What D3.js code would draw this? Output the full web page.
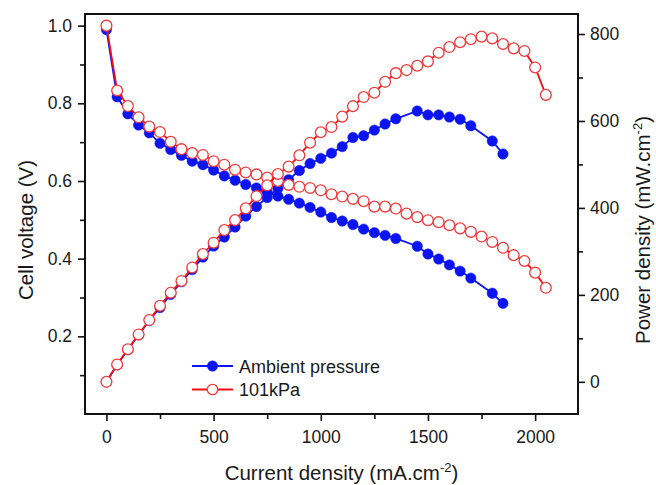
<!DOCTYPE html>
<html>
<head>
<meta charset="utf-8">
<script src="https://cdn.jsdelivr.net/npm/d3@7"></script>
<style>
  body { margin: 0; background: #fff; }
  svg text { font-family: "Liberation Sans", Arial, sans-serif; fill: #1a1a1a; }
</style>
</head>
<body>
<div id="chart"></div>
<script>
// current density (mA.cm-2)
var ambientJ = [0,50,100,150,200,250,300,350,400,450,500,550,600,650,700,750,800,850,900,950,1000,1050,1100,1150,1200,1250,1300,1350,1450,1500,1550,1600,1650,1700,1800,1850];
var ambientV = [0.99,0.817,0.773,0.744,0.724,0.697,0.681,0.666,0.651,0.642,0.628,0.613,0.602,0.591,0.582,0.571,0.561,0.553,0.543,0.532,0.520,0.506,0.497,0.488,0.476,0.467,0.460,0.452,0.432,0.412,0.399,0.384,0.368,0.350,0.311,0.285];
var ambientP = [0,39,74,108,141,171,201,230,258,287,312,333,356,381,403,424,445,465,486,502,514,526,541,562,566,579,593,605,623,614,614,609,604,589,554,524];

var kpaJ = [0,50,100,150,200,250,300,350,400,450,500,550,600,650,700,750,800,850,900,950,1000,1050,1100,1150,1200,1250,1300,1350,1400,1450,1500,1550,1600,1650,1700,1750,1800,1850,1900,1950,2000,2050];
var kpaV = [1.0,0.833,0.793,0.764,0.740,0.726,0.701,0.682,0.672,0.667,0.651,0.642,0.629,0.622,0.617,0.609,0.600,0.590,0.585,0.582,0.576,0.566,0.560,0.554,0.548,0.534,0.534,0.529,0.516,0.507,0.499,0.494,0.486,0.478,0.469,0.457,0.443,0.428,0.409,0.394,0.364,0.325];
var kpaP = [0,40,75,109,142,175,205,232,263,294,320,349,372,399,427,452,478,495,521,550,574,586,610,634,655,665,690,710,717,727,737,757,770,781,788,794,790,777,767,761,723,660];

var xTicks = [0,500,1000,1500,2000];
var xMinor = [250,750,1250,1750];
var vTicks = [0.2,0.4,0.6,0.8,1.0];
var vMinor = [0.1,0.3,0.5,0.7,0.9];
var pTicks = [0,200,400,600,800];
var pMinor = [100,300,500,700];

var margin = {top: 14, right: 78, bottom: 71, left: 85},
    width = 656 - margin.left - margin.right,
    height = 485 - margin.top - margin.bottom;

var svg = d3.select("#chart")
  .append("svg")
  .attr("width", 656)
  .attr("height", 485)
  .append("g")
  .attr("transform", "translate(" + margin.left + "," + margin.top + ")");

var x = d3.scaleLinear().domain([-100, 2200]).range([0, width]);
var yV = d3.scaleLinear().domain([0.0, 1.03]).range([height, 0]);
var yP = d3.scaleLinear().domain([-74, 846]).range([height, 0]);

function styleAxis(g, size) {
  g.select(".domain").remove();
  g.selectAll(".tick line").attr("stroke", "#111").attr("stroke-width", 1.6);
  g.selectAll(".tick text").style("font-size", size + "px");
}

// major axes
svg.append("g")
  .attr("transform", "translate(0," + height + ")")
  .call(d3.axisBottom(x).tickValues(xTicks).tickSize(7).tickPadding(10).tickFormat(d3.format("d")))
  .call(styleAxis, 17.5);
svg.append("g")
  .attr("transform", "translate(0," + height + ")")
  .call(d3.axisBottom(x).tickValues(xMinor).tickSize(5).tickFormat(""))
  .call(styleAxis, 17.5);

svg.append("g")
  .call(d3.axisLeft(yV).tickValues(vTicks).tickSize(7).tickPadding(6).tickFormat(d3.format(".1f")))
  .call(styleAxis, 17.5);
svg.append("g")
  .call(d3.axisLeft(yV).tickValues(vMinor).tickSize(5).tickFormat(""))
  .call(styleAxis, 17.5);

svg.append("g")
  .attr("transform", "translate(" + width + ",0)")
  .call(d3.axisRight(yP).tickValues(pTicks).tickSize(7).tickPadding(5).tickFormat(d3.format("d")))
  .call(styleAxis, 17.5);
svg.append("g")
  .attr("transform", "translate(" + width + ",0)")
  .call(d3.axisRight(yP).tickValues(pMinor).tickSize(5).tickFormat(""))
  .call(styleAxis, 17.5);

// frame
svg.append("rect")
  .attr("width", width)
  .attr("height", height)
  .attr("fill", "none")
  .attr("stroke", "#111")
  .attr("stroke-width", 2);

function zip(j, v) {
  return j.map(function(d, i) { return {j: d, v: v[i]}; });
}

function drawSeries(data, yScale, color, filled) {
  var line = d3.line()
    .x(function(d) { return x(d.j); })
    .y(function(d) { return yScale(d.v); });
  svg.append("path")
    .datum(data)
    .attr("d", line)
    .attr("fill", "none")
    .attr("stroke", color)
    .attr("stroke-width", 1.8);
  svg.append("g").selectAll("circle")
    .data(data)
    .enter().append("circle")
    .attr("cx", function(d) { return x(d.j); })
    .attr("cy", function(d) { return yScale(d.v); })
    .attr("r", filled ? 5.2 : 5.4)
    .attr("fill", filled ? color : "#fff")
    .attr("stroke", filled ? color : "#f23a3a")
    .attr("stroke-width", filled ? 0.5 : 1.3);
}

drawSeries(zip(ambientJ, ambientV), yV, "#0a14f0", true);
drawSeries(zip(ambientJ, ambientP), yP, "#0a14f0", true);
drawSeries(zip(kpaJ, kpaV), yV, "#f20f0f", false);
drawSeries(zip(kpaJ, kpaP), yP, "#f20f0f", false);

// legend
var legend = [
  {name: "Ambient pressure", color: "#0a14f0", filled: true},
  {name: "101kPa", color: "#f20f0f", filled: false}
];
var lg = svg.append("g").attr("transform", "translate(107,352)");
legend.forEach(function(d, i) {
  var row = lg.append("g").attr("transform", "translate(0," + (i * 23.5) + ")");
  row.append("line")
    .attr("x1", 0).attr("x2", 41)
    .attr("stroke", d.color).attr("stroke-width", 1.8);
  row.append("circle")
    .attr("cx", 20.5).attr("r", 5.2)
    .attr("fill", d.filled ? d.color : "#fff")
    .attr("stroke", d.filled ? d.color : "#f23a3a")
    .attr("stroke-width", d.filled ? 0.5 : 1.3);
  row.append("text")
    .attr("x", 47).attr("y", 6.5)
    .style("font-size", "18px")
    .text(d.name);
});

// axis titles
var xt = svg.append("text")
  .attr("x", width / 2 + 10)
  .attr("y", height + 66)
  .attr("text-anchor", "middle")
  .style("font-size", "20.5px");
xt.append("tspan").text("Current density (mA.cm");
xt.append("tspan").attr("dy", -8).style("font-size", "13px").text("-2");
xt.append("tspan").attr("dy", 8).text(")");

svg.append("text")
  .attr("transform", "translate(" + (33 - margin.left) + "," + (230 - margin.top) + ") rotate(-90)")
  .attr("text-anchor", "middle")
  .style("font-size", "20.5px")
  .text("Cell voltage (V)");

var yt = svg.append("text")
  .attr("transform", "translate(" + (650 - margin.left) + "," + (230 - margin.top) + ") rotate(-90)")
  .attr("text-anchor", "middle")
  .style("font-size", "20.5px");
yt.append("tspan").text("Power density (mW.cm");
yt.append("tspan").attr("dy", -8).style("font-size", "13px").text("-2");
yt.append("tspan").attr("dy", 8).text(")");
</script>
</body>
</html>
